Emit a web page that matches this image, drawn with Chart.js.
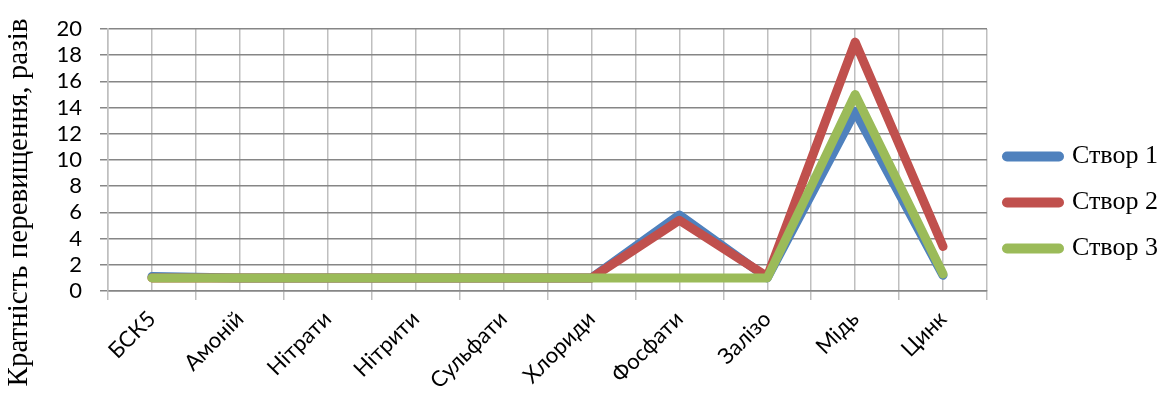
<!DOCTYPE html>
<html>
<head>
<meta charset="utf-8">
<script src="https://cdn.jsdelivr.net/npm/chart.js@4/dist/chart.umd.min.js"></script>
<style>
html,body{margin:0;padding:0;background:#fff;}
#wrap{width:1162px;height:405px;}
</style>
</head>
<body>
<div id="wrap"><canvas id="c" width="1162" height="405"></canvas></div>
<script>
const categories = ['БСК5','Амоній','Нітрати','Нітрити','Сульфати','Хлориди','Фосфати','Залізо','Мідь','Цинк'];
const stvor1 = [1.1, 1, 1, 1, 1, 1, 5.8, 1, 13.7, 1.2];
const stvor2 = [1, 1, 1, 1, 1, 1, 5.4, 1.1, 19, 3.4];
const stvor3 = [1, 1, 1, 1, 1, 1, 1, 1, 15, 1.3];
const seriesNames = ['Створ 1','Створ 2','Створ 3'];
const yTitle = 'Кратність перевищення, разів';

const TITLE_LH = 34.8, TITLE_PAD = 2;
const ds = (label, data, color, order) => ({
  label, data, borderColor: color, backgroundColor: color,
  borderWidth: 9, borderCapStyle: 'round', borderJoinStyle: 'round',
  pointRadius: 0, pointHoverRadius: 0, tension: 0, fill: false, order,
  xAxisID: 'x', yAxisID: 'y'
});

new Chart(document.getElementById('c'), {
  type: 'line',
  data: {
    labels: categories,
    datasets: [
      ds(seriesNames[0], stvor1, '#4F81BD', 3),
      ds(seriesNames[1], stvor2, '#C0504D', 2),
      ds(seriesNames[2], stvor3, '#9BBB59', 1)
    ]
  },
  options: {
    responsive: false,
    animation: false,
    devicePixelRatio: 1,
    layout: { padding: 0 },
    plugins: {
      tooltip: { enabled: false },
      title: {
        display: true,
        position: 'left',
        text: yTitle,
        color: '#000',
        font: { family: 'Liberation Serif', size: 29, weight: 'normal', lineHeight: 1.2 },
        padding: { top: TITLE_PAD, bottom: TITLE_PAD }
      },
      legend: {
        position: 'right',
        align: 'center',
        maxWidth: 175,
        labels: {
          usePointStyle: true,
          pointStyle: 'line',
          pointStyleWidth: 52,
          padding: 20,
          color: '#000',
          font: { family: 'Liberation Serif', size: 26 },
          sort: (a, b) => a.datasetIndex - b.datasetIndex,
          generateLabels: chart => Chart.defaults.plugins.legend.labels.generateLabels(chart)
            .map(it => Object.assign(it, { lineCap: 'round', lineWidth: 10 }))
        }
      }
    },
    scales: {
      x: {
        type: 'category',
        position: 'bottom',
        offset: true,
        grid: { offset: true, color: '#bfbfbf', lineWidth: 1.5, tickLength: 9, drawTicks: true },
        border: { display: true, color: '#868686', width: 1.5 },
        ticks: {
          autoSkip: false, minRotation: 45, maxRotation: 45, padding: 6,
          color: '#000', font: { family: 'Lato', size: 22 }
        },
        afterFit: s => { s.height = 405 - 291; }
      },
      x2: {
        type: 'category',
        position: 'top',
        offset: true,
        grid: { offset: false, color: '#bfbfbf', lineWidth: 1.5, drawTicks: false },
        border: { display: false },
        ticks: { display: false },
        afterFit: s => { s.height = 28; }
      },
      y: {
        type: 'linear',
        position: 'left',
        min: 0, max: 20,
        ticks: {
          stepSize: 2, autoSkip: false, padding: 18, color: '#000',
          font: { family: 'Lato', size: 22, lineHeight: 1 }
        },
        grid: { color: '#868686', lineWidth: 1.5, tickLength: 8, drawTicks: true },
        border: { display: true, color: '#bfbfbf', width: 1.5 },
        afterFit: s => { s.width = 108 - (TITLE_LH + 2 * TITLE_PAD); }
      }
    }
  }
});
</script>
</body>
</html>
